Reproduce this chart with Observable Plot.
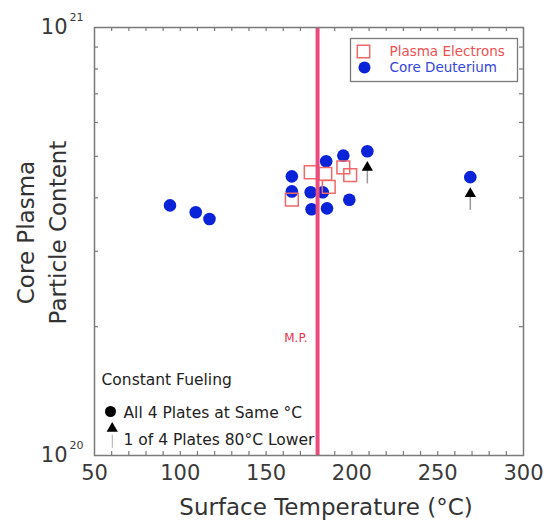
<!DOCTYPE html>
<html>
<head>
<meta charset="utf-8">
<script src="https://cdn.jsdelivr.net/npm/d3@7"></script>
<script src="https://cdn.jsdelivr.net/npm/@observablehq/plot@0.6"></script>
<style>
  html, body { margin: 0; padding: 0; background: #fff; }
  #chart svg { display: block; }
</style>
</head>
<body>
<div id="chart"></div>
<script>
// Core deuterium content vs. plate surface temperature
const deutTemp = [94, 109, 117, 165, 165, 176, 176.5, 185, 183, 185.5, 195, 198.5, 209, 269];
const deutContent = [3.84e20, 3.70e20, 3.57e20, 4.49e20, 4.14e20, 4.12e20, 3.76e20, 4.87e20, 4.12e20, 3.78e20, 5.02e20, 3.96e20, 5.14e20, 4.47e20];

// Plasma electron content
const elecTemp = [165, 176, 184.5, 186.5, 195, 199];
const elecContent = [3.96e20, 4.59e20, 4.55e20, 4.24e20, 4.71e20, 4.52e20];

// Shots with one plate 80 °C lower: arrow stems and heads
const arrowTemp = [209, 269];
const arrowHead = [4.71e20, 4.09e20];
const arrowBase = [4.31e20, 3.74e20];

// Melting point of the plate material
const meltTemp = [180];
const meltLabel = ["M.P."];
const meltLabelY = [1.88e20];

// Axis ticks
const xTicks = [50, 100, 150, 200, 250, 300];
const xMinor = d3.range(60, 300, 10);
const yMajor = [1e20, 1e21];
const yExponent = ["20", "21"];
const yMinor = [2, 3, 4, 5, 6, 7, 8, 9].map(d => d * 1e20);

// Legend / key text
const seriesNames = ["Plasma Electrons", "Core Deuterium"];
const keyTitle = "Constant Fueling";
const keyLines = ["All 4 Plates at Same °C", "1 of 4 Plates 80°C Lower"];
const keyStemX = [60.4];
const keyStemY = [[1.04e20, 1.115e20]];

const blue = "#0a22d8";
const red = "#f06868";
const pink = "#ea4c7d";
const axisGray = "#7a7a7a";
const W = 546, H = 523;
const mL = 94, mR = 23, mT = 27, mB = 68;
const innerH = H - mT - mB;
const tickLen = 4;

const chart = Plot.plot({
  width: W,
  height: H,
  marginLeft: mL,
  marginRight: mR,
  marginTop: mT,
  marginBottom: mB,
  style: { fontFamily: "DejaVu Sans, sans-serif", background: "#fff", color: "#333" },
  x: { domain: [50, 300] },
  y: { type: "log", domain: [1e20, 1e21] },
  marks: [
    // inward ticks on all four sides
    Plot.tickX(xMinor, { x: d => d, insetTop: innerH - tickLen, stroke: axisGray, strokeWidth: 1.2 }),
    Plot.tickX(xMinor, { x: d => d, insetBottom: innerH - tickLen, stroke: axisGray, strokeWidth: 1.2 }),
    Plot.tickY(yMinor, { y: d => d, insetRight: W - mL - mR - tickLen, stroke: axisGray, strokeWidth: 1.2 }),
    Plot.tickY(yMinor, { y: d => d, insetLeft: W - mL - mR - tickLen, stroke: axisGray, strokeWidth: 1.2 }),

    Plot.axisX(xTicks, { tickSize: 0, tickPadding: 10, fontSize: 21, fill: "#3a3a3a", label: null }),
    Plot.axisY(yMajor, { tickSize: 0, tickPadding: 27, fontSize: 21, fill: "#3a3a3a", tickFormat: () => "10", label: null }),
    Plot.text(yMajor, { y: d => d, text: (d, i) => yExponent[i], frameAnchor: "left", dx: -25, dy: -10, textAnchor: "start", fontSize: 11, fill: "#3a3a3a" }),

    // axis titles
    Plot.text(["Surface Temperature (°C)"], { frameAnchor: "bottom", dx: 17, dy: 52, lineAnchor: "middle", fontSize: 23, fill: "#333" }),
    Plot.text(["Core Plasma\nParticle Content"], { frameAnchor: "left", dx: -55, dy: -9, rotate: -90, textAnchor: "middle", lineAnchor: "middle", fontSize: 23, lineHeight: 1.4, fill: "#333" }),

    // data
    Plot.dot(deutTemp, { x: d => d, y: (d, i) => deutContent[i], r: 6.3, fill: blue }),
    Plot.dot(elecTemp, { x: d => d, y: (d, i) => elecContent[i], symbol: "square", r: 7.2, stroke: red, strokeWidth: 1.5, fill: "none" }),
    Plot.ruleX(arrowTemp, { x: d => d, y1: (d, i) => arrowBase[i], y2: (d, i) => arrowHead[i], stroke: "#999", strokeWidth: 1.5 }),
    Plot.dot(arrowTemp, { x: d => d, y: (d, i) => arrowHead[i], symbol: "triangle", r: 4.2, fill: "#000" }),

    // legend box (top right)
    Plot.frame({ insetLeft: 256, insetRight: 6, insetTop: 11, insetBottom: 374, stroke: axisGray, strokeWidth: 1.3 }),
    Plot.dot([0], { frameAnchor: "top-left", dx: 269, dy: 24, symbol: "square", r: 7, stroke: red, strokeWidth: 1.5, fill: "none" }),
    Plot.dot([0], { frameAnchor: "top-left", dx: 270, dy: 40, r: 6, fill: blue }),
    Plot.text([seriesNames[0]], { frameAnchor: "top-left", dx: 295, dy: 24, textAnchor: "start", lineAnchor: "middle", fontSize: 13.5, fill: "#f05050" }),
    Plot.text([seriesNames[1]], { frameAnchor: "top-left", dx: 295, dy: 40, textAnchor: "start", lineAnchor: "middle", fontSize: 13.5, fill: "#3345e0" }),

    // key (bottom left)
    Plot.text([keyTitle], { frameAnchor: "bottom-left", dx: 7, dy: -75, textAnchor: "start", lineAnchor: "middle", fontSize: 15.5, fill: "#222" }),
    Plot.dot([0], { frameAnchor: "bottom-left", dx: 16, dy: -44, r: 5.5, fill: "#000" }),
    Plot.text([keyLines[0]], { frameAnchor: "bottom-left", dx: 29, dy: -42, textAnchor: "start", lineAnchor: "middle", fontSize: 15.5, fill: "#222" }),
    Plot.ruleX(keyStemX, { x: d => d, y1: (d, i) => keyStemY[i][0], y2: (d, i) => keyStemY[i][1], stroke: "#bbb", strokeWidth: 1.2 }),
    Plot.dot([0], { frameAnchor: "bottom-left", dx: 17.7, dy: -27, symbol: "triangle", r: 4.2, fill: "#000" }),
    Plot.text([keyLines[1]], { frameAnchor: "bottom-left", dx: 29, dy: -15, textAnchor: "start", lineAnchor: "middle", fontSize: 15.5, fill: "#222" }),

    // melting point line and label
    Plot.ruleX(meltTemp, { x: d => d, stroke: pink, strokeWidth: 4 }),
    Plot.text(meltTemp, { x: d => d, y: (d, i) => meltLabelY[i], text: (d, i) => meltLabel[i], textAnchor: "end", dx: -10, fontSize: 12, fill: "#e8344f" }),

    Plot.frame({ stroke: axisGray, strokeWidth: 1.5 })
  ]
});

document.getElementById("chart").append(chart);
</script>
</body>
</html>
